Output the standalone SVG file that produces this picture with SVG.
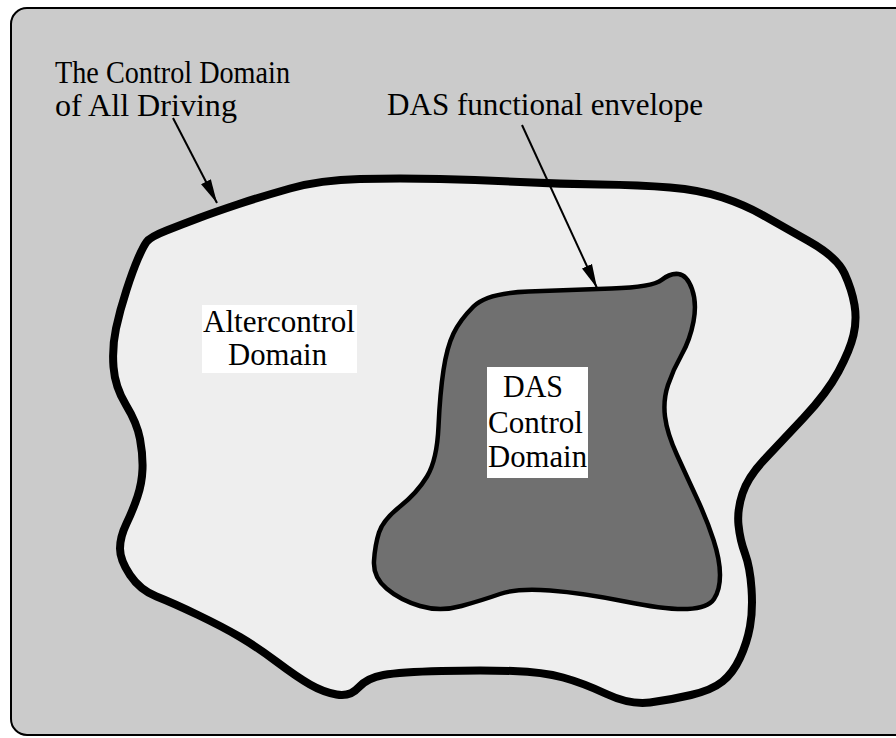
<svg xmlns="http://www.w3.org/2000/svg" width="896" height="738" viewBox="0 0 896 738">
<style>
.lbl{font-family:"Liberation Serif","Times New Roman",serif;font-size:31px;fill:#000}
.conn{stroke:#000;stroke-width:2;fill:none}
.box{fill:#fff}
</style>
<defs>
<marker id="ah" markerUnits="userSpaceOnUse" markerWidth="26" markerHeight="14" refX="24" refY="7" orient="auto">
<path d="M0,1.5 L24,7 L0,12.5 Z" fill="#000"/>
</marker>
</defs>
<rect id="frame" x="11" y="8" width="900" height="727" rx="16" fill="#cbcbcb" stroke="#000" stroke-width="2"/>
<g id="all-driving">
<path d="M146.5,242 Q150,237 166.5,230.5 Q183,224 199,218 Q215,212 237.5,204.5 Q260,197 290,188.5 Q320,180 360,179 Q400,178 440,179 Q480,180 520,182 Q560,184 600,184.5 Q640,185 670,187.5 Q700,190 722.5,197.5 Q745,205 762.5,215 Q780,225 808.5,241 Q837,257 844.5,273.5 Q852,290 854.5,305 Q857,320 853.5,335 Q850,350 838.5,371.5 Q827,393 803.5,418 Q780,443 764,460 Q748,477 742.5,493.5 Q737,510 738.5,525 Q740,540 745,553.5 Q750,567 751.5,588.5 Q753,610 750,626.5 Q747,643 740,658 Q733,673 722.5,681.5 Q712,690 691,695 Q670,700 650,702.5 Q630,705 606.5,694 Q583,683 563,677.5 Q543,672 513,671 Q483,670 441.5,671 Q400,672 383.5,675 Q367,678 358.5,687.5 Q350,697 336.5,694.5 Q323,692 310,684.5 Q297,677 277,662 Q257,647 240,637 Q223,627 198,615 Q173,603 156.5,596.5 Q140,590 130,575 Q120,560 120,548.5 Q120,537 126.5,523.5 Q133,510 137.5,496.5 Q142,483 142.5,469 Q143,455 140,439 Q137,423 126,405 Q115,387 113.5,367 Q112,347 116,328.5 Q120,310 126.5,290 Q133,270 138,258.5 Q143,247 146.5,242 Z" fill="#eeeeee" stroke="#000" stroke-width="8" stroke-linejoin="round"/>
</g>
<g id="altercontrol">
<rect class="box" x="202" y="305" width="155" height="68"/>
<text class="lbl" x="203" y="332" textLength="152" lengthAdjust="spacingAndGlyphs">Altercontrol</text>
<text class="lbl" x="228" y="365" textLength="99" lengthAdjust="spacingAndGlyphs">Domain</text>
</g>
<g id="das-domain">
<path d="M473.5,306.5 Q487,293 528.5,291.5 Q570,290 611.5,288.5 Q653,287 661.5,280 Q670,273 678.5,274 Q687,275 692,289 Q697,303 693.5,321.5 Q690,340 681.5,355 Q673,370 668,385 Q663,400 665,416.5 Q667,433 677,455 Q687,477 697,498.5 Q707,520 713.5,540 Q720,560 720,575 Q720,590 714,599 Q708,608 687.5,609 Q667,610 625,601.5 Q583,593 550,590.5 Q517,588 500,594 Q483,600 461.5,606 Q440,612 420,606 Q400,600 386.5,588.5 Q373,577 374,561 Q375,545 379,532.5 Q383,520 400,506.5 Q417,493 427,476.5 Q437,460 438.5,426.5 Q440,393 443.5,370 Q447,347 453.5,333.5 Q460,320 473.5,306.5 Z" fill="#707070" stroke="#000" stroke-width="4.5" stroke-linejoin="round"/>
<rect class="box" x="487" y="367" width="101" height="111"/>
<text class="lbl" x="503" y="397" textLength="60" lengthAdjust="spacingAndGlyphs">DAS</text>
<text class="lbl" x="488" y="433" textLength="95" lengthAdjust="spacingAndGlyphs">Control</text>
<text class="lbl" x="488" y="467" textLength="99" lengthAdjust="spacingAndGlyphs">Domain</text>
</g>
<g id="label-all">
<text class="lbl" x="55" y="83" textLength="235" lengthAdjust="spacingAndGlyphs">The Control Domain</text>
<text class="lbl" x="55" y="116" textLength="182" lengthAdjust="spacingAndGlyphs">of All Driving</text>
</g>
<g id="label-envelope">
<text class="lbl" x="387" y="115" textLength="316" lengthAdjust="spacingAndGlyphs">DAS functional envelope</text>
</g>
<g id="connectors">
<line class="conn" x1="173" y1="118" x2="217" y2="203" marker-end="url(#ah)"/>
<line class="conn" x1="522" y1="125" x2="597" y2="288" marker-end="url(#ah)"/>
</g>
</svg>
